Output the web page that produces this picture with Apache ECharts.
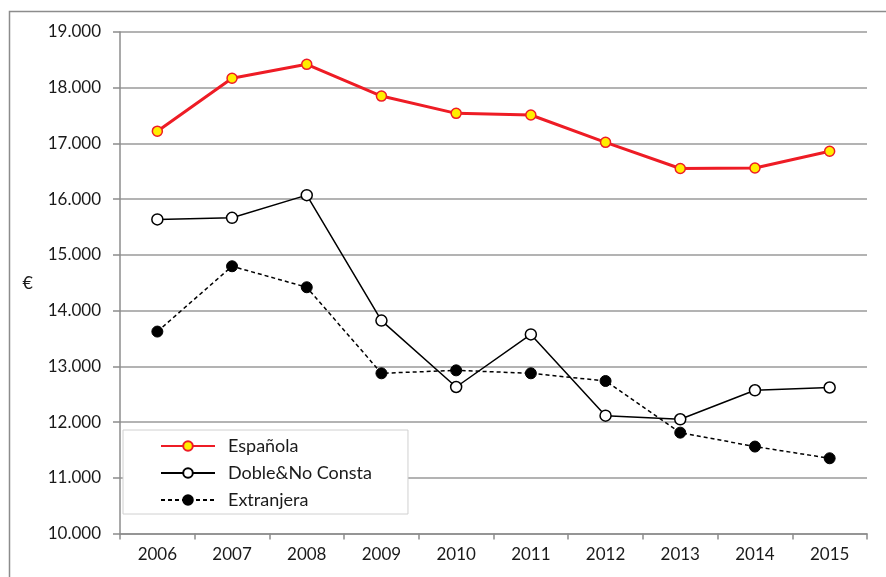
<!DOCTYPE html>
<html>
<head>
<meta charset="utf-8">
<script src="https://cdn.jsdelivr.net/npm/echarts@6/dist/echarts.min.js"></script>
<style>html,body{margin:0;padding:0;background:#fff}#c{width:886px;height:577px}</style>
</head>
<body>
<div id="c"></div>
<script>
var years = ['2006','2007','2008','2009','2010','2011','2012','2013','2014','2015'];
var espanola = [17220, 18170, 18420, 17850, 17540, 17510, 17020, 16550, 16560, 16860];
var doble = [15636, 15665, 16072, 13821, 12629, 13573, 12115, 12050, 12570, 12620];
var extranjera = [13624, 14796, 14419, 12875, 12928, 12875, 12737, 11810, 11560, 11350];

var FONT = 'Lato';
var chart = echarts.init(document.getElementById('c'));
chart.setOption({
  animation: false,
  textStyle: {fontFamily: FONT},
  graphic: [{
    type: 'rect', left: 7, top: 9,
    shape: {width: 900, height: 600},
    style: {fill: 'none', stroke: '#8c8c8c', lineWidth: 1.5},
    silent: true, z: -1
  }],
  grid: {left: 120, right: 19, top: 32, bottom: 43.5},
  legend: {
    orient: 'vertical',
    left: 123, top: 430,
    padding: [7, 36, 5, 37],
    itemGap: 9,
    itemWidth: 54, itemHeight: 12,
    backgroundColor: '#fff',
    borderColor: '#d0d0d0', borderWidth: 1,
    textStyle: {fontFamily: FONT, fontSize: 18, color: '#1a1a1a', padding: [0, 0, 0, 8]},
    data: ['Española', 'Doble&No Consta', 'Extranjera']
  },
  xAxis: {
    type: 'category',
    data: years,
    boundaryGap: true,
    axisLine: {lineStyle: {color: '#8c8c8c', width: 1.5}},
    axisTick: {show: true, length: 6, lineStyle: {color: '#8c8c8c', width: 1.5}},
    axisLabel: {fontFamily: FONT, fontSize: 17, color: '#1a1a1a', margin: 13}
  },
  yAxis: {
    type: 'value',
    min: 10000, max: 19000, interval: 1000,
    name: '€',
    nameLocation: 'middle',
    nameRotate: 0,
    nameGap: 87,
    nameTextStyle: {fontFamily: FONT, fontSize: 18, color: '#1a1a1a'},
    axisLine: {show: true, lineStyle: {color: '#8c8c8c', width: 1.5}},
    axisTick: {show: true, length: 7, lineStyle: {color: '#8c8c8c', width: 1.5}},
    splitLine: {lineStyle: {color: '#9a9a9a', width: 1.5}},
    axisLabel: {
      fontFamily: FONT, fontSize: 17, color: '#1a1a1a', margin: 19,
      formatter: function (v) { return (v / 1000).toFixed(3); }
    }
  },
  series: [{
    name: 'Española', type: 'line', data: espanola,
    symbol: 'circle', symbolSize: 10,
    lineStyle: {color: '#ee1c25', width: 3},
    itemStyle: {color: '#ffee00', borderColor: '#ee1c25', borderWidth: 1.5},
    z: 4
  }, {
    name: 'Doble&No Consta', type: 'line', data: doble,
    symbol: 'circle', symbolSize: 11,
    lineStyle: {color: '#000', width: 1.5},
    itemStyle: {color: '#fff', borderColor: '#000', borderWidth: 1.5},
    z: 3
  }, {
    name: 'Extranjera', type: 'line', data: extranjera,
    symbol: 'circle', symbolSize: 11,
    lineStyle: {color: '#000', width: 1.5, type: [4, 3]},
    itemStyle: {color: '#000', borderColor: '#000', borderWidth: 1},
    z: 2
  }]
});
</script>
</body>
</html>
